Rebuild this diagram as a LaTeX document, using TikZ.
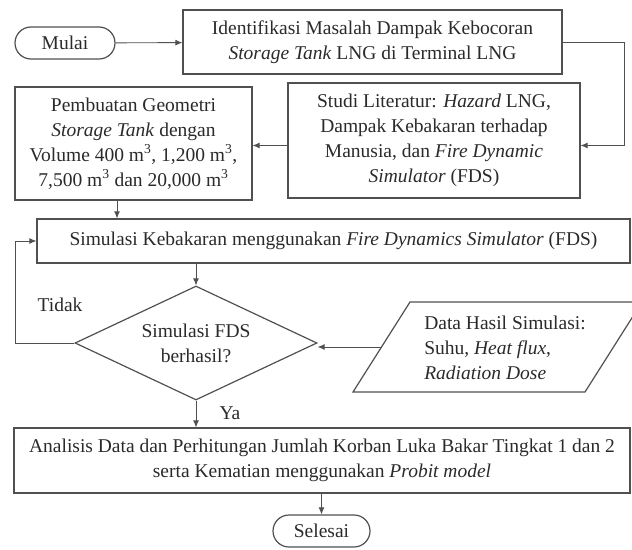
\documentclass[tikz,border=0pt]{standalone}
\usepackage{fontspec}
\setmainfont{Liberation Serif}
\usetikzlibrary{shapes.geometric,shapes.misc,arrows.meta,calc}
\definecolor{ln}{HTML}{505050}
\definecolor{tx}{HTML}{2A2A2A}
\begin{document}
\begin{tikzpicture}[x=1pt,y=-1pt,
  every node/.style={font=\fontsize{19.5pt}{25pt}\selectfont, text=tx, inner sep=0pt},
  procbox/.style={draw=ln, line width=1.2pt, rectangle, align=center},
  termbox/.style={draw=ln, line width=1.2pt, rounded rectangle, align=center},
  decbox/.style={draw=ln, line width=1.2pt, diamond, aspect=2.12, align=center},
  ioline/.style={draw=ln, line width=1.2pt, line join=miter},
  conn/.style={draw=ln, line width=0.9pt, -{Latex[length=7pt,width=6pt]}}
]
\useasboundingbox (0,0) rectangle (632,549);

\node[termbox, minimum width=100pt, minimum height=32pt] (mulai) at (65,43) {Mulai};
\node[procbox, minimum width=379pt, minimum height=64pt] (ident) at (372.5,42)
  {Identifikasi Masalah Dampak Kebocoran\\\textit{Storage Tank} LNG di Terminal LNG};
\node[procbox, minimum width=292pt, minimum height=115pt] (studi) at (434,140.5)
  {Studi Literatur: \textit{Hazard} LNG,\\Dampak Kebakaran terhadap\\Manusia, dan \textit{Fire Dynamic}\\\textit{Simulator} (FDS)};
\node[procbox, minimum width=237pt, minimum height=113pt] (pemb) at (133.5,143.5)
  {Pembuatan Geometri\\\textit{Storage Tank} dengan\\Volume 400 m\textsuperscript{3}, 1,200 m\textsuperscript{3},\\7,500 m\textsuperscript{3} dan 20,000 m\textsuperscript{3}};
\node[procbox, minimum width=593pt, minimum height=44pt] (simu) at (333.5,241)
  {Simulasi Kebakaran menggunakan \textit{Fire Dynamics Simulator} (FDS)};
\node[decbox, minimum width=242pt, minimum height=114pt] (dec) at (196,343)
  {Simulasi FDS\\berhasil?};

% data parallelogram
\coordinate (dBL) at (353,392);
\coordinate (dTL) at (410,302);
\coordinate (dTR) at (642,302);
\coordinate (dBR) at (585,392);
\draw[ioline] (dBL) -- (dTL) -- (dTR) -- (dBR) -- cycle;
\node[align=left] (data) at (505,347.5)
  {Data Hasil Simulasi:\\Suhu, \textit{Heat flux},\\\textit{Radiation Dose}};
\coordinate (dataL) at ($(dBL)!0.5!(dTL)$);

\node[procbox, minimum width=616pt, minimum height=65pt] (anal) at (322,460.5)
  {Analisis Data dan Perhitungan Jumlah Korban Luka Bakar Tingkat 1 dan 2\\serta Kematian menggunakan \textit{Probit model}};
\node[termbox, minimum width=97pt, minimum height=32pt] (selesai) at (321.5,531) {Selesai};

\node (tidak) at (60,305) {Tidak};
\node (ya) at (230,413) {Ya};

\coordinate (rt) at (624,0);
\coordinate (lf) at (15,0);
\coordinate (studiE) at ([yshift=-5pt]studi.east);
\coordinate (studiW) at ([yshift=-5pt]studi.west);
\coordinate (pembS) at ([xshift=-16.5pt]pemb.south);

\draw[conn] (mulai) -- (ident);
\draw[conn] (ident.east) -| (rt |- studiE) -- (studiE);
\draw[conn] (studiW) -- (studiW -| pemb.east);
\draw[conn] (pembS) -- (pembS |- simu.north);
\draw[conn] (dec.north |- simu.south) -- (dec.north);
\draw[conn] (dec.west) -- (lf |- dec.west) |- (simu.west);
\draw[conn] (dataL) -- (dataL -| dec.east);
\draw[conn] (dec.south) -- (dec.south |- anal.north);
\draw[conn] (selesai.north |- anal.south) -- (selesai.north);
\end{tikzpicture}
\end{document}
